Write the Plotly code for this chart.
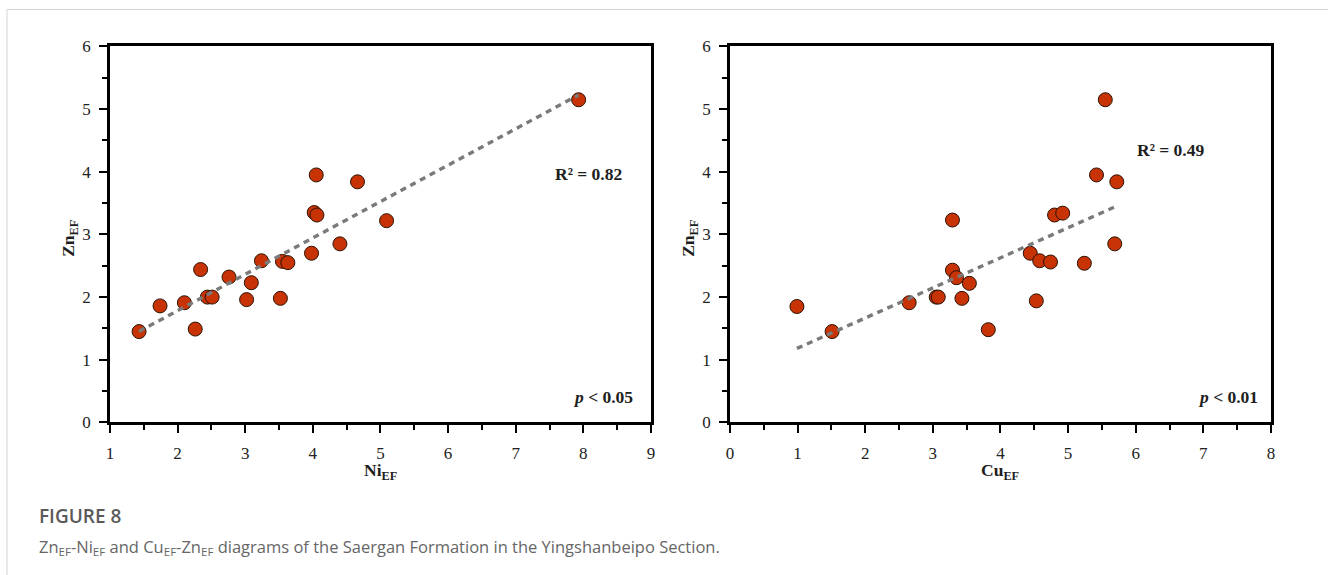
import numpy as np
import plotly.graph_objects as go

# Left panel: Ni_EF vs Zn_EF
ni_ef = [1.43, 1.74, 2.10, 2.26, 2.34, 2.44, 2.51, 2.76, 3.02, 3.09, 3.24,
         3.52, 3.55, 3.63, 3.98, 4.02, 4.05, 4.06, 4.40, 4.66, 5.09, 7.93]
zn_left = [1.45, 1.86, 1.91, 1.49, 2.44, 2.00, 2.00, 2.32, 1.96, 2.23, 2.58,
           1.98, 2.57, 2.55, 2.70, 3.35, 3.95, 3.31, 2.85, 3.84, 3.22, 5.15]

# Right panel: Cu_EF vs Zn_EF
cu_ef = [0.99, 1.51, 2.65, 3.05, 3.08, 3.29, 3.29, 3.35, 3.43, 3.54, 3.82,
         4.44, 4.53, 4.58, 4.74, 4.80, 4.92, 5.24, 5.42, 5.55, 5.69, 5.72]
zn_right = [1.85, 1.45, 1.91, 2.00, 2.00, 3.23, 2.43, 2.31, 1.98, 2.22, 1.48,
            2.70, 1.94, 2.58, 2.56, 3.31, 3.34, 2.54, 3.95, 5.15, 2.85, 3.84]

r2_labels = ["R² = 0.82", "R² = 0.49"]
p_labels = ["0.05", "0.01"]
x_titles = ["Ni", "Cu"]
x_ranges = [[1, 9], [0, 8]]
y_range = [0, 6]

W, H = 1328, 575
# map a target screen position to paper coordinates (compensates capture offset)
def px(x):
    return ((x - 4) / 0.994) / W
def py(y):
    return 1 - ((y - 9) / 0.9676) / H

dom_y = [py(422.7), py(46.5)]
dom_x1 = [px(110), px(651)]
dom_x2 = [px(730), px(1271)]

MARKER_COLOR = "#c83305"
LINE_COLOR = "#7a7a7a"
SERIF = "Liberation Serif, Times New Roman, serif"
TXT = "#1e1e1e"

fig = go.Figure()

def add_panel(xs, ys, xa, ya):
    fig.add_trace(go.Scatter(
        x=xs, y=ys, mode="markers", xaxis=xa, yaxis=ya, showlegend=False,
        marker=dict(size=14, color=MARKER_COLOR, line=dict(color="#2a1205", width=1)),
    ))
    k, b = np.polyfit(xs, ys, 1)
    xl = np.array([min(xs), max(xs)])
    fig.add_trace(go.Scatter(
        x=xl, y=k * xl + b, mode="lines", xaxis=xa, yaxis=ya, showlegend=False,
        line=dict(color=LINE_COLOR, width=3.4, dash="6px,5px"),
    ))

add_panel(ni_ef, zn_left, "x", "y")
add_panel(cu_ef, zn_right, "x2", "y2")

axis_common = dict(
    showline=True, linecolor="black", linewidth=2.5, mirror=True,
    showgrid=False, zeroline=False, ticks="outside", ticklen=8, tickwidth=2,
    tickcolor="black", tickfont=dict(family=SERIF, size=17, color="#222"),
    dtick=1, ticklabelstandoff=5,
    minor=dict(ticks="outside", ticklen=5, tickwidth=2, dtick=0.5, tickcolor="black"),
)

fig.update_layout(
    width=W, height=H, margin=dict(l=0, r=0, t=0, b=0),
    paper_bgcolor="white", plot_bgcolor="white",
    xaxis=dict(domain=dom_x1, range=x_ranges[0], anchor="y", **axis_common),
    yaxis=dict(domain=dom_y, range=y_range, anchor="x", **axis_common),
    xaxis2=dict(domain=dom_x2, range=x_ranges[1], anchor="y2", **axis_common),
    yaxis2=dict(domain=dom_y, range=y_range, anchor="x2", **axis_common),
)

ann = []
CC = dict(xanchor="center", yanchor="middle", showarrow=False)
# axis titles
for cx, name in [(381, x_titles[0]), (1000, x_titles[1])]:
    ann.append(dict(x=px(cx), y=py(472), xref="paper", yref="paper",
                    text=f"<b>{name}<sub>EF</sub></b>",
                    font=dict(family=SERIF, size=17.5, color=TXT), **CC))
for cx in [70, 690]:
    ann.append(dict(x=px(cx), y=py(238), xref="paper", yref="paper",
                    text="<b>Zn<sub>EF</sub></b>", textangle=-90,
                    font=dict(family=SERIF, size=17.5, color=TXT), **CC))
# R2 and p labels (data coords)
ann.append(dict(x=8.07, y=3.97, xref="x", yref="y", text=f"<b>{r2_labels[0]}</b>",
                font=dict(family=SERIF, size=17.5, color=TXT), **CC))
ann.append(dict(x=6.51, y=4.35, xref="x2", yref="y2", text=f"<b>{r2_labels[1]}</b>",
                font=dict(family=SERIF, size=17.5, color=TXT), **CC))
ann.append(dict(x=8.29, y=0.40, xref="x", yref="y",
                text=f"<b><i>p</i> &lt; {p_labels[0]}</b>",
                font=dict(family=SERIF, size=17.5, color=TXT), **CC))
ann.append(dict(x=7.36, y=0.40, xref="x2", yref="y2",
                text=f"<b><i>p</i> &lt; {p_labels[1]}</b>",
                font=dict(family=SERIF, size=17.5, color=TXT), **CC))
# caption
ann.append(dict(x=px(37), y=py(516), xref="paper", yref="paper",
                xanchor="left", yanchor="middle", showarrow=False,
                text="FIGURE 8",
                font=dict(family="Open Sans, sans-serif", size=19, color="#5a5a5a",
                          weight=600)))
ann.append(dict(x=px(37), y=py(547), xref="paper", yref="paper",
                xanchor="left", yanchor="middle", showarrow=False,
                text="Zn<sub>EF</sub>-Ni<sub>EF</sub> and Cu<sub>EF</sub>-Zn<sub>EF</sub> diagrams of the Saergan Formation in the Yingshanbeipo Section.",
                font=dict(family="Open Sans, sans-serif", size=16.5, color="#666")))
fig.update_layout(annotations=ann)

fig.add_shape(type="rect", xref="paper", yref="paper",
              x0=px(7), x1=1.05, y0=-0.05, y1=1 - 0.5 / H,
              line=dict(color="#d4d4d4", width=1), layer="below")

fig.write_html(
    "out.html",
    config={"displayModeBar": False, "responsive": False},
    post_script=(
        "document.documentElement.style.margin='0';"
        "document.documentElement.style.overflow='hidden';"
        "document.body.style.margin='0';"
        "document.body.style.overflow='hidden';"
    ),
)
